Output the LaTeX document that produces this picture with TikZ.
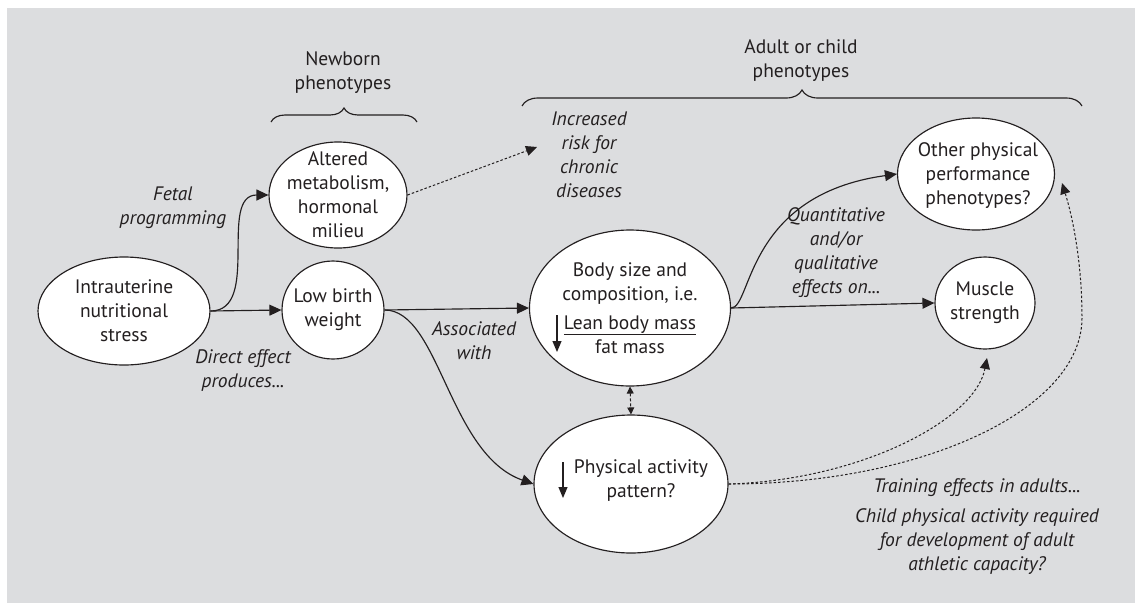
\documentclass[tikz,border=0pt]{standalone}
\usepackage{fontspec}
\setmainfont{PT Sans}
\usetikzlibrary{arrows.meta,shapes.geometric,decorations.pathreplacing,calc}
\definecolor{bg}{RGB}{220,221,223}
\definecolor{ink}{RGB}{35,31,32}
\begin{document}
\begin{tikzpicture}[x=1pt,y=-1pt,
  bubble/.style={ellipse,draw=ink,fill=white,line width=1.15pt,inner sep=0pt},
  txt/.style={align=center,text=ink,font=\fontsize{19.5}{24}\selectfont,inner sep=0pt},
  itxt/.style={align=center,text=ink,font=\fontsize{19.5}{24}\selectfont\itshape,inner sep=0pt},
  conn/.style={draw=ink,line width=1.15pt,-{Triangle[length=12pt,width=11pt]}},
  dotconn/.style={draw=ink,line width=1pt,dash pattern=on 2.5pt off 2pt,-{Triangle[length=11pt,width=10pt]}},
  dashconn/.style={draw=ink,line width=1pt,dash pattern=on 3pt off 2pt,{Triangle[length=7pt,width=7pt]}-{Triangle[length=7pt,width=7pt]}},
  downarrow/.style={draw=ink,line width=1.15pt,-{Triangle[length=11pt,width=9pt]}},
  bracestyle/.style={draw=ink,line width=1.15pt,decorate,decoration={brace,amplitude=#1}}
]
\useasboundingbox (0,0) rectangle (1135,603);
\fill[bg] (7,8) rectangle (1135,603);

% ellipses
\node[bubble,minimum width=172pt,minimum height=108pt] (intra) at (124,311) {};
\node[bubble,minimum width=102pt,minimum height=98pt] (lbw) at (333,310) {};
\node[bubble,minimum width=138pt,minimum height=106pt] (alt) at (338,195) {};
\node[bubble,minimum width=201pt,minimum height=156pt] (body) at (630,308) {};
\node[bubble,minimum width=194pt,minimum height=138pt] (pa) at (631,484) {};
\node[bubble,minimum width=157pt,minimum height=112pt] (op) at (976,174) {};
\node[bubble,minimum width=100pt,minimum height=92pt] (ms) at (985,303) {};

% node texts
\node[txt] (intraT) at (intra.center) {Intrauterine\\nutritional\\stress};
\node[txt] (lbwT) at (lbw.center) {Low birth\\weight};
\node[txt] (altT) at (alt.center) {Altered\\metabolism,\\hormonal\\milieu};
\node[txt] (bodyT) at (body.center) {Body size and\\composition, i.e.\\[5pt]\underline{Lean body mass}\\fat mass};
\node[txt] (paT) at ($(pa.center)+(10,-3)$) {Physical activity\\pattern?};
\node[txt] (opT) at ($(op.center)+(2,2)$) {Other physical\\performance\\phenotypes?};
\node[txt] (msT) at (ms.center) {Muscle\\strength};

% small down arrows inside nodes
\draw[downarrow] ($(body.center)+(-73,7)$) -- ++(0,37);
\draw[downarrow] ($(pa.center)+(-68,-22)$) -- ++(0,36);

% headings and labels
\node[txt] (newbornT) at (343,73) {Newborn\\phenotypes};
\node[txt] (adultT) at (801,61) {Adult or child\\phenotypes};
\node[itxt] (riskT) at (589,155) {Increased\\risk for\\chronic\\diseases};
\node[itxt] (fetalT) at (173,208) {Fetal\\programming};
\node[itxt] (directT) at (243,371) {Direct effect\\produces...};
\node[itxt] (assocT) at (474,341) {Associated\\with};
\node[itxt] (quantT) at (836,253) {Quantitative\\and/or\\qualitative\\effects on...};
\node[itxt] (trainT) at (977,488) {Training effects in adults...};
\node[itxt] (childT) at (977,542) {Child physical activity required\\for development of adult\\athletic capacity?};

% braces
\draw[bracestyle=14pt] (271,122) -- (417,122);
\draw[bracestyle=16pt] (522,106) -- (1082,106);

% free ends
\coordinate (risktip) at (537,147);
\coordinate (mstip) at (987,358);
\coordinate (optip) at (1062,183);

% connectors
\draw[conn] (intra.east) -- (lbw.west);
\draw[conn] (intra.east) to[out=0,in=180] (alt.west);
\draw[conn] (lbw.east) -- (body.west);
\draw[conn] (lbw.east) .. controls +(55,0) and +(-85,-30) .. (pa.west);
\draw[conn] (body.east) -- (ms.west);
\draw[conn] (body.east) .. controls +(21,0) and +(-152,21) .. (op.west);
\draw[dotconn] (alt.east) -- (risktip);
\draw[dashconn] (body.south) -- (pa.north);
\draw[dotconn] (pa.east) .. controls +(132,-4) and +(-12,62) .. (mstip);
\draw[dotconn] (pa.east) .. controls +(195,0) and +(0,91) .. (1082,318) .. controls +(0,-58) and +(10,32) .. (optip);
\end{tikzpicture}
\end{document}
